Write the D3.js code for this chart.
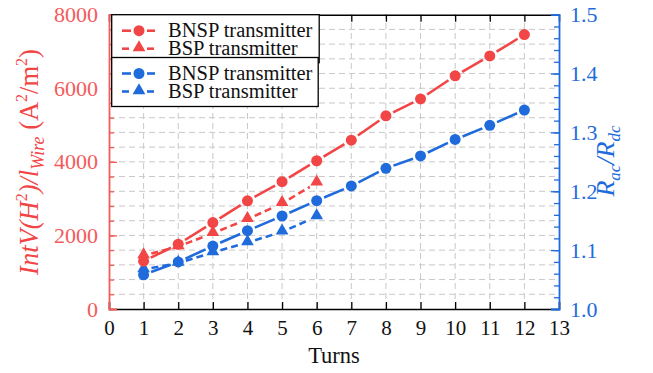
<!DOCTYPE html>
<html>
<head>
<meta charset="utf-8">
<script src="https://cdn.jsdelivr.net/npm/d3@7"></script>
<style>
  body { margin: 0; background: #fff; }
  svg text { font-family: "Liberation Serif", "Times New Roman", serif; }
</style>
</head>
<body>
<div id="chart"></div>
<script>
// values
const turns = [1, 2, 3, 4, 5, 6, 7, 8, 9, 10, 11, 12];
const turnsBsp = [1, 2, 3, 4, 5, 6];
const intvBnsp = [1300, 1760, 2350, 2940, 3460, 4030, 4590, 5250, 5710, 6340, 6880, 7460];
const intvBsp = [1450, 1700, 2060, 2440, 2870, 3430];
const racBnsp = [1.058, 1.080, 1.107, 1.133, 1.158, 1.184, 1.209, 1.239, 1.260, 1.288, 1.312, 1.338];
const racBsp = [1.067, 1.078, 1.096, 1.113, 1.131, 1.157];
const xTicks = d3.range(0, 14);
const yLeftTicks = [0, 2000, 4000, 6000, 8000];
const yRightTicks = [1.0, 1.1, 1.2, 1.3, 1.4, 1.5];
const legendLabels = ["BNSP transmitter", "BSP transmitter"];

const width = 653, height = 373;
const margin = { top: 14.7, right: 94, bottom: 64, left: 109 };
const red = "#f24545";
const redAxis = "#f55a5a";
const blue = "#1f6bdc";

const svg = d3.select("#chart").append("svg")
  .attr("width", width)
  .attr("height", height);

const x = d3.scaleLinear([0, 13], [margin.left, width - margin.right]);
const yL = d3.scaleLinear([0, 8000], [height - margin.bottom, margin.top]);
const yR = d3.scaleLinear([1.0, 1.5], [height - margin.bottom, margin.top]);

const x0 = x.range()[0], x1 = x.range()[1];
const yb = yL.range()[0], yt = yL.range()[1];

// grid
const grid = svg.append("g")
  .attr("stroke", "#c8c8c8")
  .attr("stroke-width", 1)
  .attr("stroke-dasharray", "6,4");
grid.selectAll("line.h")
  .data(d3.range(400, 8000, 400))
  .join("line")
  .attr("x1", x0).attr("x2", x1)
  .attr("y1", (d) => yL(d)).attr("y2", (d) => yL(d));
grid.selectAll("line.v")
  .data(d3.range(1, 13))
  .join("line")
  .attr("class", "v")
  .attr("y1", yb).attr("y2", yt)
  .attr("x1", (d) => x(d)).attr("x2", (d) => x(d));

const serif = "Liberation Serif";

// bottom axis (ticks inward)
svg.append("g")
  .attr("transform", `translate(0,${yb})`)
  .call(d3.axisBottom(x).tickValues(xTicks).tickSize(-7).tickPadding(11).tickFormat(d3.format("d")))
  .call((g) => g.select(".domain").attr("stroke", "#000").attr("stroke-width", 1.5))
  .call((g) => g.selectAll(".tick line").attr("stroke", "#000").attr("stroke-width", 1.3))
  .call((g) => g.selectAll(".tick text").style("font-size", "21px").attr("fill", "#111")
    .style("font-family", serif));

// top axis
svg.append("g")
  .attr("transform", `translate(0,${yt})`)
  .call(d3.axisTop(x).tickValues(d3.range(1, 13)).tickSize(-7).tickFormat(""))
  .call((g) => g.select(".domain").attr("stroke", "#000").attr("stroke-width", 1.5))
  .call((g) => g.selectAll(".tick line").attr("stroke", "#000").attr("stroke-width", 1.3));

// left axis
svg.append("g")
  .attr("transform", `translate(${x0},0)`)
  .call(d3.axisLeft(yL).tickValues(d3.range(0, 8001, 400)).tickSize(-5).tickFormat(""))
  .call((g) => g.select(".domain").remove())
  .call((g) => g.selectAll(".tick line").attr("stroke", redAxis).attr("stroke-width", 1.3));
svg.append("g")
  .attr("transform", `translate(${x0},0)`)
  .call(d3.axisLeft(yL).tickValues(yLeftTicks).tickSize(-8).tickPadding(11).tickFormat(d3.format("d")))
  .call((g) => g.select(".domain").attr("stroke", redAxis).attr("stroke-width", 1.8))
  .call((g) => g.selectAll(".tick line").attr("stroke", redAxis).attr("stroke-width", 1.3))
  .call((g) => g.selectAll(".tick text").style("font-size", "22px").attr("fill", redAxis)
    .style("font-family", serif));

// right axis
svg.append("g")
  .attr("transform", `translate(${x1},0)`)
  .call(d3.axisRight(yR).tickValues(d3.range(1.0, 1.5001, 0.02)).tickSize(-5).tickFormat(""))
  .call((g) => g.select(".domain").remove())
  .call((g) => g.selectAll(".tick line").attr("stroke", blue).attr("stroke-width", 1.3));
svg.append("g")
  .attr("transform", `translate(${x1},0)`)
  .call(d3.axisRight(yR).tickValues(yRightTicks).tickSize(-8).tickPadding(11).tickFormat(d3.format(".1f")))
  .call((g) => g.select(".domain").attr("stroke", blue).attr("stroke-width", 1.8))
  .call((g) => g.selectAll(".tick line").attr("stroke", blue).attr("stroke-width", 1.3))
  .call((g) => g.selectAll(".tick text").style("font-size", "22px").attr("fill", blue)
    .style("font-family", serif));

// segments with a small gap around the markers
function gapped(g, pts, color, dash) {
  const gap = 8;
  const segs = d3.pairs(pts).map(([a, b]) => {
    const dx = b[0] - a[0], dy = b[1] - a[1];
    const len = Math.hypot(dx, dy);
    const ux = dx / len, uy = dy / len;
    return [a[0] + ux * gap, a[1] + uy * gap, b[0] - ux * gap, b[1] - uy * gap];
  });
  g.append("g").selectAll("line")
    .data(segs)
    .join("line")
    .attr("x1", (d) => d[0]).attr("y1", (d) => d[1])
    .attr("x2", (d) => d[2]).attr("y2", (d) => d[3])
    .attr("stroke", color)
    .attr("stroke-width", 2.6)
    .attr("stroke-dasharray", dash ? "7,4" : null);
}

const triangle = d3.symbol(d3.symbolTriangle, 70);

function series(xs, ys, yScale, color, dash, shape) {
  const g = svg.append("g");
  const pts = xs.map((d, i) => [x(d), yScale(ys[i])]);
  gapped(g, pts, color, dash);
  if (shape === "circle") {
    g.selectAll("circle").data(pts).join("circle")
      .attr("cx", (d) => d[0]).attr("cy", (d) => d[1]).attr("r", 5.5)
      .attr("fill", color);
  } else {
    g.selectAll("path").data(pts).join("path")
      .attr("transform", (d) => `translate(${d[0]},${d[1] - 1})`)
      .attr("d", triangle)
      .attr("fill", color);
  }
}

series(turnsBsp, racBsp, yR, blue, true, "triangle");
series(turns, racBnsp, yR, blue, false, "circle");
series(turns, intvBnsp, yL, red, false, "circle");
series(turnsBsp, intvBsp, yL, red, true, "triangle");

// legends
function legend(y0, h, w, color) {
  const g = svg.append("g");
  g.append("rect")
    .attr("x", 111.7).attr("y", y0).attr("width", w).attr("height", h)
    .attr("fill", "#fff").attr("stroke", "#000").attr("stroke-width", 1.3);
  legendLabels.forEach((lab, i) => {
    const yy = y0 + 16 + i * 18;
    const pts = [[114, yy], [139, yy], [163, yy]];
    gapped(g, pts, color, i === 1);
    if (i === 0) {
      g.append("circle").attr("cx", 139).attr("cy", yy).attr("r", 5.5).attr("fill", color);
    } else {
      g.append("path").attr("transform", `translate(139,${yy - 1})`).attr("d", triangle).attr("fill", color);
    }
    g.append("text")
      .attr("x", 168).attr("y", yy + 6)
      .style("font-size", "20.5px")
      .attr("fill", "#111")
      .text(lab);
  });
}
legend(14.7, 48, 207.5, red);
legend(57.5, 49, 206.5, blue);

// axis titles
svg.append("text")
  .attr("x", 334).attr("y", 363)
  .attr("text-anchor", "middle")
  .style("font-size", "22.5px")
  .attr("fill", "#111")
  .text("Turns");

const lt = svg.append("text")
  .attr("transform", "translate(38,162) rotate(-90)")
  .attr("text-anchor", "middle")
  .style("font-size", "26.5px")
  .attr("fill", red);
lt.append("tspan").attr("font-style", "italic").text("IntV(H");
lt.append("tspan").style("font-size", "16px").attr("dy", -11).text("2");
lt.append("tspan").attr("font-style", "italic").attr("dy", 11).text(")/l");
lt.append("tspan").attr("font-style", "italic").style("font-size", "18px").attr("dy", 6).text("Wire");
lt.append("tspan").attr("dy", -6).text(" (A");
lt.append("tspan").style("font-size", "16px").attr("dy", -11).text("2");
lt.append("tspan").attr("dy", 11).text("/m");
lt.append("tspan").style("font-size", "16px").attr("dy", -11).text("2");
lt.append("tspan").attr("dy", 11).text(")");

const rt = svg.append("text")
  .attr("transform", "translate(614,161) rotate(-90)")
  .attr("text-anchor", "middle")
  .style("font-size", "26px")
  .attr("font-style", "italic")
  .attr("fill", blue);
rt.append("tspan").text("R");
rt.append("tspan").style("font-size", "17px").attr("dy", 6).text("ac");
rt.append("tspan").attr("dy", -6).text("/R");
rt.append("tspan").style("font-size", "17px").attr("dy", 6).text("dc");
</script>
</body>
</html>
